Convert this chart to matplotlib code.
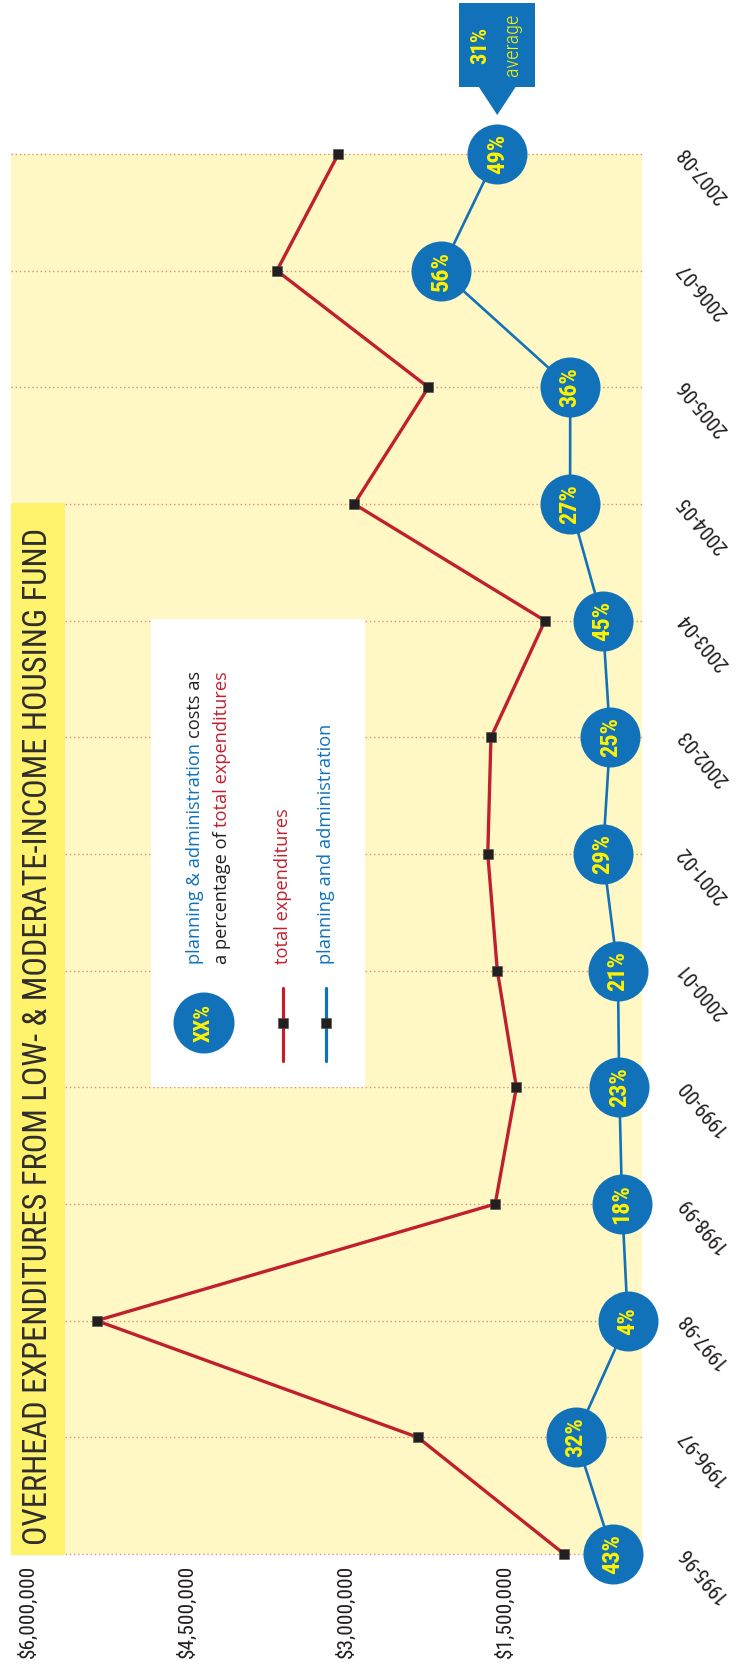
import os
import matplotlib
matplotlib.use("Agg")
import matplotlib.pyplot as plt
from matplotlib import font_manager as fm
from matplotlib.patches import Rectangle, Circle, Polygon
from matplotlib.transforms import ScaledTranslation

# ---------------------------------------------------------------- data
years = ["1995-96", "1996-97", "1997-98", "1998-99", "1999-00", "2000-01",
         "2001-02", "2002-03", "2003-04", "2004-05", "2005-06", "2006-07",
         "2007-08"]
total_expenditures = [810000, 2190000, 5220000, 1460000, 1260000, 1440000,
                      1530000, 1500000, 990000, 2790000, 2090000, 3520000,
                      2940000]
admin_share_pct = [43, 32, 4, 18, 23, 21, 29, 25, 45, 27, 36, 56, 49]
average_pct = 31
dollar_ticks = [6000000, 4500000, 3000000, 1500000]
dollar_labels = ["$6,000,000", "$4,500,000", "$3,000,000", "$1,500,000"]
title = "OVERHEAD EXPENDITURES FROM LOW- & MODERATE-INCOME HOUSING FUND"

# planning & administration dollars follow from the stated share of the total
planning_admin = [t * p / 100 for t, p in zip(total_expenditures, admin_share_pct)]

# ---------------------------------------------------------------- style
PLOT_BG = "#FFF8C4"
TITLE_BG = "#FFF36D"
BLUE = "#1172BA"
RED = "#C0202E"
GRID = "#E58B7F"
YELLOW = "#FFF200"
INK = "#231F20"

W, H, DPI = 739, 1668, 100


def font_file(names, fallback):
    lookup = {os.path.basename(f.fname).lower(): f.fname
              for f in fm.fontManager.ttflist}
    for n in names:
        if n.lower() in lookup:
            return fm.FontProperties(fname=lookup[n.lower()])
    return fallback


COND = font_file(["RobotoCondensed-Regular.ttf", "LiberationSansNarrow-Regular.ttf",
                  "DejaVuSansCondensed.ttf"],
                 fm.FontProperties(family="DejaVu Sans"))
COND_BOLD = font_file(["RobotoCondensed-Bold.ttf", "LiberationSansNarrow-Bold.ttf",
                       "DejaVuSansCondensed-Bold.ttf"],
                      fm.FontProperties(family="DejaVu Sans", weight="bold"))
COND_LIGHT = font_file(["RobotoCondensed-Light.ttf", "RobotoCondensed-Regular.ttf",
                        "LiberationSansNarrow-Regular.ttf", "DejaVuSansCondensed.ttf"],
                       COND)
BODY = fm.FontProperties(family=["Open Sans", "DejaVu Sans"])

fig = plt.figure(figsize=(W / DPI, H / DPI), dpi=DPI)
fig.patch.set_facecolor("white")
renderer = fig.canvas.get_renderer()


def sized(fp, size):
    f = fp.copy()
    f.set_size(size)
    return f


def text_width(s, fp):
    t = fig.text(0, 0, s, fontproperties=fp)
    w = t.get_window_extent(renderer).width
    t.remove()
    return w


def fit(fp, sample, length_px, ref=20.0):
    return sized(fp, ref * length_px / text_width(sample, sized(fp, ref)))


def px_box(x0, y0, x1, y1):
    return [x0 / W, 1 - y1 / H, (x1 - x0) / W, (y1 - y0) / H]


# ---------------------------------------------------------------- main axes
# value runs right-to-left, fiscal years bottom-to-top
ax = fig.add_axes(px_box(11, 154, 642, 1554))
ax.set_facecolor(PLOT_BG)
ax.set_xlim(6.028e6, 0.075e6)
ax.set_ylim(0, len(years) - 1)
for s in ax.spines.values():
    s.set_visible(False)
ax.set_yticks([])

idx = list(range(len(years)))
for i in idx:
    ax.axhline(i, color=GRID, lw=1.0, ls=(0, (1, 2)), zorder=1, clip_on=False)

ax.plot(total_expenditures, idx, color=RED, lw=2.4, zorder=3, clip_on=False)
ax.plot(total_expenditures, idx, ls="none", marker="s", ms=7.4, color=INK,
        mec="#4a4a4a", mew=0.4, zorder=4, clip_on=False)

ax.plot(planning_admin, idx, color=BLUE, lw=1.9, zorder=2, clip_on=False)
circle_d_pt = 60 * 72 / DPI
ax.scatter(planning_admin, idx, s=circle_d_pt ** 2, color=BLUE, zorder=5,
           linewidths=0, clip_on=False)
pct_fp = fit(COND_BOLD, "49%", 40)
for x, i, p in zip(planning_admin, idx, admin_share_pct):
    ax.text(x, i, f"{p}%", rotation=90, ha="center", va="center",
            color=YELLOW, fontproperties=pct_fp, zorder=6, clip_on=False)

# value tick labels below the plot
tick_fp = fit(COND, "$6,000,000", 93)
ax.set_xticks(dollar_ticks)
ax.set_xticklabels(dollar_labels, rotation=90, fontproperties=tick_fp, color=INK)
ax.tick_params(axis="x", length=0, pad=8)
for lbl in ax.get_xticklabels():
    lbl.set_ha("center")
    lbl.set_va("top")
    lbl.set_transform(lbl.get_transform() + ScaledTranslation(0.14, 0, fig.dpi_scale_trans))

# fiscal-year labels to the right
year_fp = fit(COND, "1995-96", 66)
year_tr = ax.get_yaxis_transform() + ScaledTranslation(0, -0.20, fig.dpi_scale_trans)
for i, yr in zip(idx, years):
    ax.text(1 + 61 / 631, i, yr, transform=year_tr, rotation=130,
            rotation_mode="anchor", ha="center", va="center", color=INK,
            fontproperties=year_fp, clip_on=False)

# ---------------------------------------------------------------- overlay (pixel units)
ov = fig.add_axes([0, 0, 1, 1])
ov.set_xlim(0, W)
ov.set_ylim(H, 0)
ov.axis("off")

# title band
ov.add_patch(Rectangle((11, 503), 54, 1052, color=TITLE_BG, lw=0, zorder=1))
ov.text(38, 1545, title, rotation=90, ha="center", va="bottom",
        color="#2E2D2C", fontproperties=fit(COND, title, 1016), zorder=2)

# legend box
ov.add_patch(Rectangle((151, 619), 214, 468, color="white", lw=0, zorder=1))
ov.add_patch(Circle((204, 1023), 30.5, color=BLUE, lw=0, zorder=2))
ov.text(204, 1023, "XX%", rotation=90, ha="center", va="center", color=YELLOW,
        fontproperties=fit(COND_BOLD, "XX%", 38), zorder=3)

body_fp = fit(BODY, "a percentage of total expenditures", 293)


def rich_vertical(x, y0, parts, fp):
    """Write coloured pieces one after another, reading bottom-to-top."""
    so_far = ""
    for s, c in parts:
        so_far += s
        piece = s.lstrip()
        start = text_width(so_far, fp) - text_width(piece, fp)
        ov.text(x, y0 - start, piece, rotation=90, ha="center", va="bottom",
                color=c, fontproperties=fp, zorder=3)


rich_vertical(195, 964, [("planning & administration", BLUE), (" costs as", INK)], body_fp)
rich_vertical(222, 964, [("a percentage of", INK), (" total expenditures", RED)], body_fp)
rich_vertical(283, 964, [("total expenditures", RED)], body_fp)
rich_vertical(326, 964, [("planning and administration", BLUE)], body_fp)

for lx, col in [(283, RED), (326, BLUE)]:
    ov.plot([lx, lx], [988, 1061], color=col, lw=2.3, solid_capstyle="round", zorder=2)
    ov.plot([lx], [1023], ls="none", marker="s", ms=7.4, color=INK, mec="#4a4a4a",
            mew=0.4, zorder=3)

# average call-out above the latest year
fig.canvas.draw()
px, py = ax.transData.transform((planning_admin[-1], idx[-1]))
cx, cy = ov.transData.inverted().transform((px, py))
ov.add_patch(Rectangle((cx - 38, cy - 151), 76, 84, color=BLUE, lw=0, zorder=2))
ov.add_patch(Polygon([(cx - 19, cy - 68), (cx + 19, cy - 68), (cx, cy - 39)],
                     closed=True, color=BLUE, lw=0, zorder=2))
ov.text(cx - 17, cy - 109, f"{average_pct}%", rotation=90, ha="center", va="center",
        color=YELLOW, fontproperties=fit(COND_BOLD, "31%", 37), zorder=3)
ov.text(cx + 15, cy - 109, "average", rotation=90, ha="center", va="center",
        color=YELLOW, fontproperties=fit(COND_LIGHT, "average", 62), zorder=3)

fig.savefig("out.png", dpi=DPI, facecolor="white")
